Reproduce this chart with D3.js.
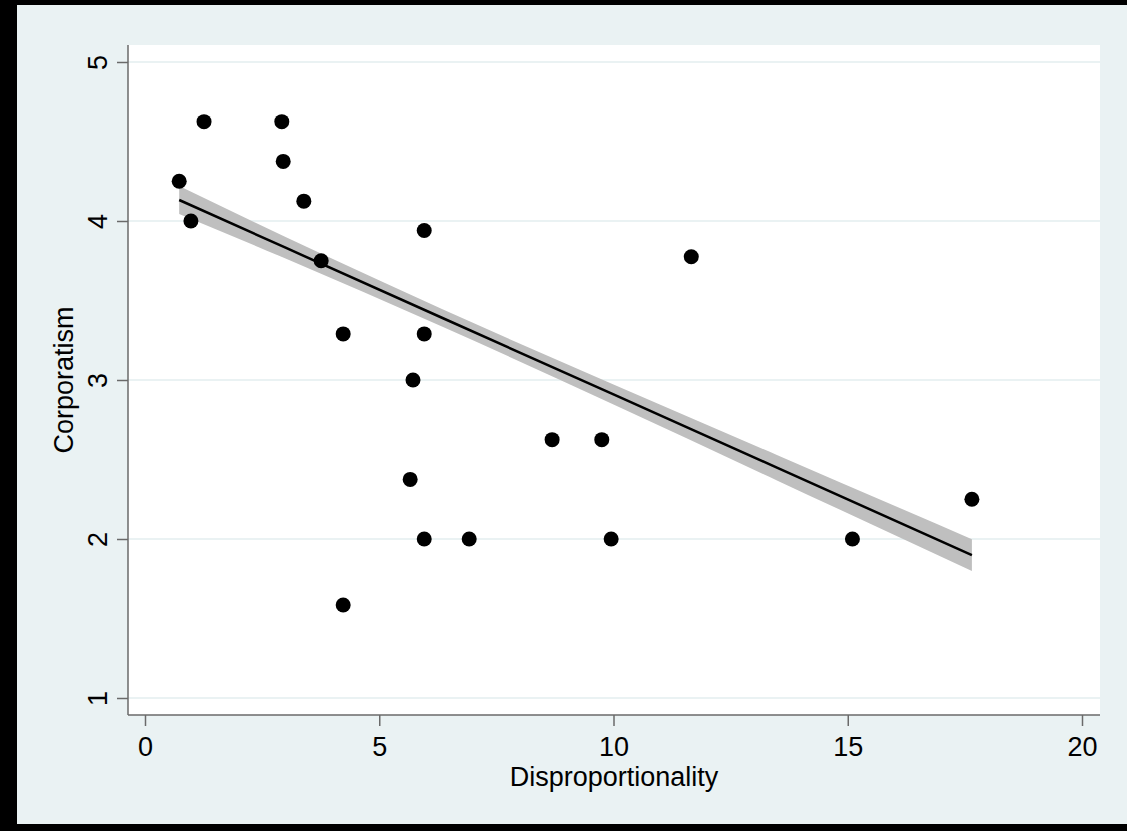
<!DOCTYPE html>
<html>
<head>
<meta charset="utf-8">
<script src="https://cdn.jsdelivr.net/npm/d3@7"></script>
<style>
  html, body { margin: 0; padding: 0; background: #EAF2F3; }
  svg { display: block; }
  text { font-family: "Liberation Sans", Arial, sans-serif; fill: #000; }
</style>
</head>
<body>
<svg id="chart" width="1127" height="831"></svg>
<script>
// --- Data ---

const disproportionality = [0.73, 0.98, 1.26, 2.92, 2.95, 3.39, 3.76, 4.23, 4.23, 5.66, 5.72,
  5.96, 5.96, 5.96, 6.92, 8.69, 9.75, 9.95, 11.66, 15.10, 17.65];
const corporatism = [4.25, 4.0, 4.625, 4.625, 4.375, 4.125, 3.75, 3.29, 1.585, 2.375, 3.0,
  3.94, 3.29, 2.0, 2.0, 2.625, 2.625, 2.0, 3.775, 2.0, 2.25];

// fitted line and 95% CI band
const fitX = [0.73, 3, 6.35, 10, 13.5, 17.65];
const fitY = [4.132, 3.832, 3.390, 2.909, 2.447, 1.899];
const ciHi = [4.220, 3.900, 3.445, 2.972, 2.527, 1.999];
const ciLo = [4.044, 3.764, 3.335, 2.846, 2.367, 1.799];

const xTicks = [0, 5, 10, 15, 20];
const yTicks = [1, 2, 3, 4, 5];

// --- Layout ---

const W = 1127, H = 831;
const plot = { left: 128, right: 1100, top: 45, bottom: 715 };
const BG = "#EAF2F3";
const AXIS = "#6a6a6a";

const x = d3.scaleLinear().domain([0, 20]).range([145, 1082]);
const y = d3.scaleLinear().domain([1, 5]).range([698, 62]);

const svg = d3.select("#chart");

// outer background + frame
svg.append("rect").attr("width", W).attr("height", H).attr("fill", BG);
svg.append("rect").attr("x", 0).attr("y", 0).attr("width", W).attr("height", 5).attr("fill", "#000");
svg.append("rect").attr("x", 0).attr("y", 0).attr("width", 17).attr("height", H).attr("fill", "#000");
svg.append("rect").attr("x", 0).attr("y", 824).attr("width", W).attr("height", 7).attr("fill", "#000");

// plot region
svg.append("rect")
  .attr("x", plot.left).attr("y", plot.top)
  .attr("width", plot.right - plot.left).attr("height", plot.bottom - plot.top)
  .attr("fill", "#fff");

// gridlines
svg.append("g")
  .selectAll("line")
  .data(yTicks)
  .join("line")
  .attr("x1", plot.left).attr("x2", plot.right)
  .attr("y1", (d) => y(d)).attr("y2", (d) => y(d))
  .attr("stroke", BG).attr("stroke-width", 2);

// CI band
const band = fitX.map((v, i) => ({ x: v, lo: ciLo[i], hi: ciHi[i] }));
svg.append("path")
  .datum(band)
  .attr("fill", "#bfbfbf")
  .attr("d", d3.area().x((d) => x(d.x)).y0((d) => y(d.lo)).y1((d) => y(d.hi)).curve(d3.curveMonotoneX));

// fit line
svg.append("path")
  .datum(fitX.map((v, i) => [v, fitY[i]]))
  .attr("fill", "none")
  .attr("stroke", "#000")
  .attr("stroke-width", 2.5)
  .attr("d", d3.line().x((d) => x(d[0])).y((d) => y(d[1])));

// points
svg.append("g")
  .selectAll("circle")
  .data(disproportionality.map((v, i) => [v, corporatism[i]]))
  .join("circle")
  .attr("cx", (d) => x(d[0]))
  .attr("cy", (d) => y(d[1]))
  .attr("r", 7.5)
  .attr("fill", "#000");

// --- Axes ---

const xAxis = svg.append("g")
  .attr("transform", `translate(0,${plot.bottom})`)
  .call(d3.axisBottom(x).tickValues(xTicks).tickSize(11).tickPadding(11).tickFormat(d3.format("d")));
xAxis.select(".domain").attr("d", `M${plot.left},0H${plot.right}`);

const yAxis = svg.append("g")
  .attr("transform", `translate(${plot.left},0)`)
  .call(d3.axisLeft(y).tickValues(yTicks).tickSize(11).tickFormat(d3.format("d")));
yAxis.select(".domain").attr("d", `M0,${plot.top}V${plot.bottom}`);

for (const ax of [xAxis, yAxis]) {
  ax.select(".domain").attr("stroke", AXIS).attr("stroke-width", 1.5);
  ax.selectAll(".tick line").attr("stroke", AXIS).attr("stroke-width", 1.5);
  ax.selectAll("text").attr("font-size", 27).attr("fill", "#000")
    .attr("font-family", '"Liberation Sans", Arial, sans-serif');
}

// rotated y tick labels (stata style)
yAxis.selectAll(".tick text")
  .attr("x", null).attr("dy", null)
  .attr("text-anchor", "middle")
  .attr("transform", "translate(-21,0) rotate(-90)");

// titles
svg.append("text")
  .attr("x", (plot.left + plot.right) / 2)
  .attr("y", 786)
  .attr("text-anchor", "middle")
  .attr("font-size", 27)
  .text("Disproportionality");

svg.append("text")
  .attr("transform", `translate(73,${(plot.top + plot.bottom) / 2}) rotate(-90)`)
  .attr("text-anchor", "middle")
  .attr("font-size", 27)
  .text("Corporatism");
</script>
</body>
</html>
